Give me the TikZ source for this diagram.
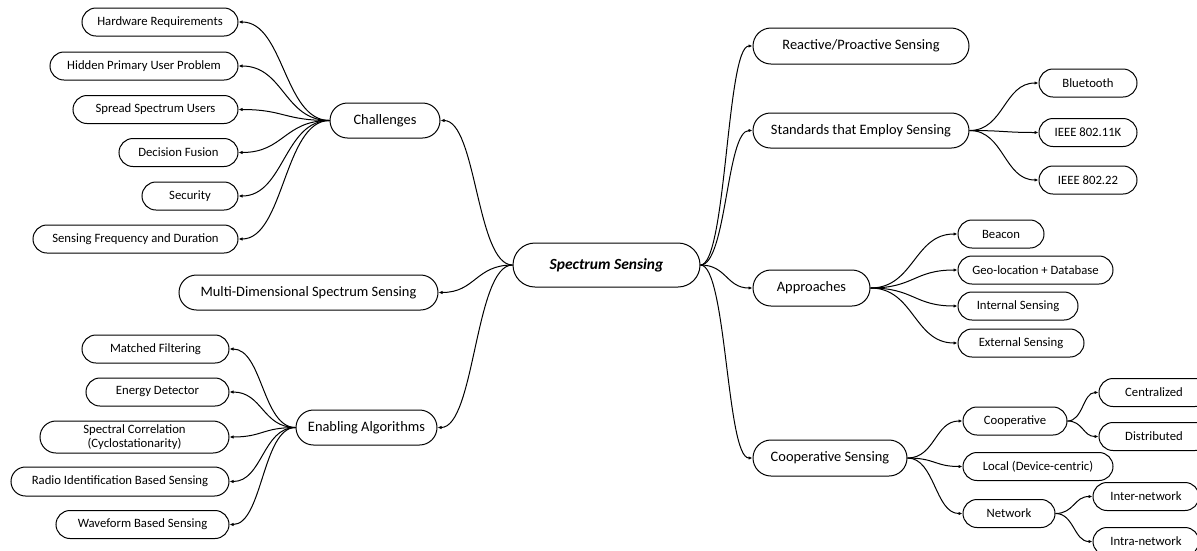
\documentclass[tikz,border=0pt]{standalone}
\usepackage{fontspec}
\setmainfont{Carlito}
\usetikzlibrary{shapes.misc,arrows.meta,calc}
\begin{document}
\begin{tikzpicture}[x=1pt,y=-1pt,
  box/.style={rounded rectangle, draw, line width=1pt, inner sep=0pt,
    align=center, minimum height=28pt, font=\fontsize{12.7}{14.5}\selectfont},
  mid/.style={box, minimum height=35pt, font=\fontsize{14.4}{17}\selectfont},
  link/.style={line width=1pt, -{Latex[length=4pt,width=3.4pt]},
    to path={let \p1=(\tikztostart), \p2=(\tikztotarget),
      \n1={0.5*(\x2-\x1)} in
      .. controls +(\n1,0) and +(-\n1,0) .. (\tikztotarget) \tikztonodes}},
]
\useasboundingbox (0,0) rectangle (1197,550);
\clip (0,0) rectangle (1197,550);

% root
\node[box, minimum width=187pt, minimum height=44pt,
  font=\fontsize{15.5}{18}\selectfont\bfseries\itshape] (ss) at (606.5,265) {Spectrum Sensing};

% left branch: challenges
\node[mid, minimum width=110pt] (chal) at (385,120.5) {Challenges};
\node[box, minimum width=156pt] (hw)  at (160,22)    {Hardware Requirements};
\node[box, minimum width=188pt] (hid) at (144,66)    {Hidden Primary User Problem};
\node[box, minimum width=165pt] (spr) at (155.5,109.5) {Spread Spectrum Users};
\node[box, minimum width=119pt] (dec) at (178.5,152.5) {Decision Fusion};
\node[box, minimum width=96pt]  (sec) at (190,196)   {Security};
\node[box, minimum width=205pt] (sfd) at (135.5,239) {Sensing Frequency and Duration};

% left branch: multi-dimensional
\node[mid, minimum width=259pt] (multi) at (308.5,292.5) {Multi-Dimensional Spectrum Sensing};

% left branch: enabling algorithms
\node[mid, minimum width=141pt] (ea)  at (366.5,427.5) {Enabling Algorithms};
\node[box, minimum width=147pt] (mf)  at (155.5,349) {Matched Filtering};
\node[box, minimum width=143pt] (ed)  at (157.5,392) {Energy Detector};
\node[box, minimum width=189pt, minimum height=32pt] (sc) at (134.5,437)
  {Spectral Correlation\\(Cyclostationarity)};
\node[box, minimum width=218pt, minimum height=29pt] (rid) at (120,481.5) {Radio Identification Based Sensing};
\node[box, minimum width=173pt] (wf)  at (142.5,524.5) {Waveform Based Sensing};

% right branch
\node[mid, minimum width=216pt, minimum height=36pt] (rp)  at (861,46) {Reactive/Proactive Sensing};
\node[mid, minimum width=216pt] (std) at (861,130.5) {Standards that Employ Sensing};
\node[box, minimum width=98pt]  (bt)  at (1088,83)    {Bluetooth};
\node[box, minimum width=98pt]  (i11) at (1088,132.5) {IEEE 802.11K};
\node[box, minimum width=98pt]  (i22) at (1088,180)   {IEEE 802.22};

\node[mid, minimum width=117pt, minimum height=36pt] (app) at (811.5,288) {Approaches};
\node[box, minimum width=86pt]  (bea) at (1001,234)   {Beacon};
\node[box, minimum width=155pt] (geo) at (1035.5,270) {Geo-location + Database};
\node[box, minimum width=120pt] (int) at (1018,306)   {Internal Sensing};
\node[box, minimum width=126pt] (ext) at (1021,343)   {External Sensing};

\node[mid, minimum width=154pt, minimum height=36pt] (cs) at (830,458) {Cooperative Sensing};
\node[box, minimum width=104pt] (coop) at (1015,421)  {Cooperative};
\node[box, minimum width=110pt] (cen)  at (1154,392.5) {Centralized};
\node[box, minimum width=110pt] (dis)  at (1154,436.5) {Distributed};
\node[box, minimum width=150pt] (loc)  at (1038,466.5) {Local (Device-centric)};
\node[box, minimum width=92pt]  (net)  at (1009,513.5) {Network};
\node[box, minimum width=106pt] (inter) at (1146,496.5) {Inter-network};
\node[box, minimum width=106pt] (intra) at (1146,541.5) {Intra-network};

% connectors
\draw[link] (ss.west) to (chal.east);
\draw[link] (ss.west) to (multi.east);
\draw[link] (ss.west) to (ea.east);
\foreach \c in {hw,hid,spr,dec,sec,sfd} \draw[link] (chal.west) to (\c.east);
\foreach \c in {mf,ed,sc,rid,wf} \draw[link] (ea.west) to (\c.east);

\foreach \c in {rp,std,app,cs} \draw[link] (ss.east) to (\c.west);
\foreach \c in {bt,i11,i22} \draw[link] (std.east) to (\c.west);
\foreach \c in {bea,geo,int,ext} \draw[link] (app.east) to (\c.west);
\foreach \c in {coop,loc,net} \draw[link] (cs.east) to (\c.west);
\foreach \c in {cen,dis} \draw[link] (coop.east) to (\c.west);
\foreach \c in {inter,intra} \draw[link] (net.east) to (\c.west);
\end{tikzpicture}
\end{document}
